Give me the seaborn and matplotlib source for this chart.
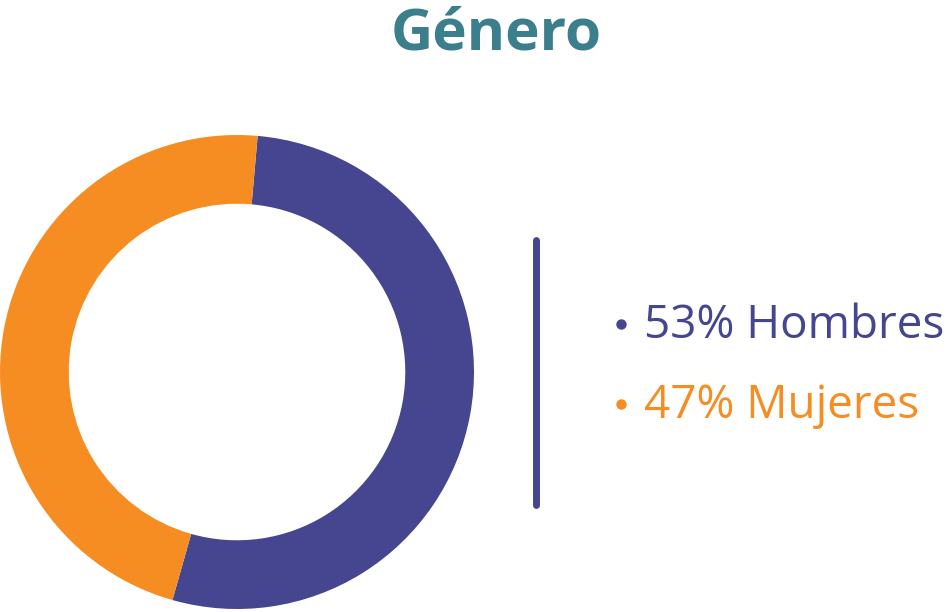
import matplotlib
matplotlib.use("Agg")
import matplotlib.pyplot as plt
import seaborn as sns

categories = ["Hombres", "Mujeres"]
values = [53, 47]
title_text = "Género"

sns.set_theme(style="white")
plt.rcParams['font.family'] = ['Open Sans', 'DejaVu Sans']

palette = ["#45468f", "#f68d22"]
title_color = "#3a7f8b"

W, H = 949, 612
fig = plt.figure(figsize=(W / 100, H / 100), dpi=100)

# overlay axes in pixel coordinates for text and divider
ov = fig.add_axes([0, 0, 1, 1])
ov.set_xlim(0, W)
ov.set_ylim(H, 0)
ov.axis("off")

# donut
cx, cy, r = 237, 372, 237
ax = fig.add_axes([(cx - r) / W, (H - cy - r) / H, 2 * r / W, 2 * r / H])
ax.pie(values, colors=palette, startangle=85, counterclock=False, radius=1,
       wedgeprops=dict(width=0.29, edgecolor="none", linewidth=0))
ax.set_xlim(-1, 1)
ax.set_ylim(-1, 1)
ax.set_aspect("equal")
ax.axis("off")

# title
ov.text(496, 50, title_text, ha="center", va="baseline", fontsize=42,
        fontweight="bold", color=title_color)

# divider
ov.plot([536, 536], [240, 505], color=palette[0], lw=5, solid_capstyle="round")

# legend entries
baselines = [338, 418]
for cat, v, col, yb in zip(categories, values, palette, baselines):
    ov.plot([621], [yb - 14.5], marker="o", ms=7.5, color=col, mec="none")
    ov.text(644, yb, f"{v}% {cat}", ha="left", va="baseline", fontsize=33,
            color=col)

fig.savefig("out.png", dpi=100, facecolor="white")
